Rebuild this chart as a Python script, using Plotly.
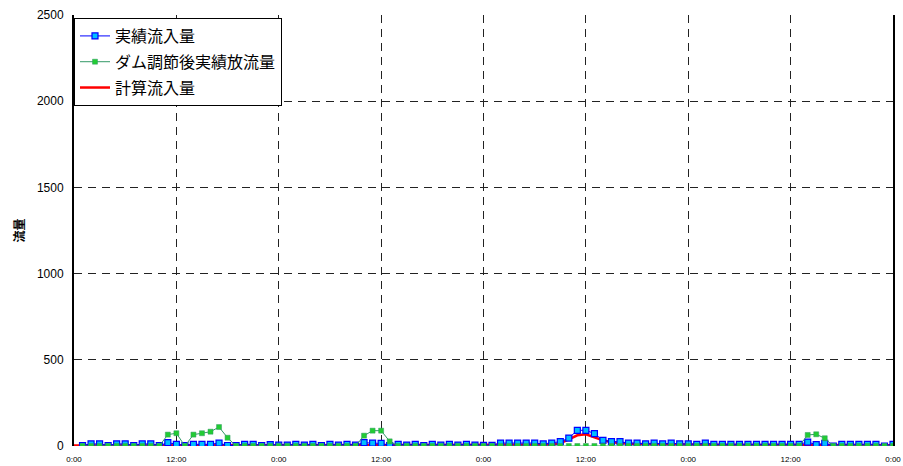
import plotly.graph_objects as go

# hourly data, 4 days (hour 0 = first 0:00)
hours = list(range(1, 97))
hours_calc = list(range(0, 97))

# 実績流入量 (hours 1..96)
inflow_obs = [
    3, 12, 12, 3, 12, 12, 3, 12, 12, 3, 19, 10, 3, 10, 10, 10, 17, 3, 3, 10, 10, 3, 8, 5,
    5, 10, 5, 10, 3, 10, 5, 10, 5, 19, 17, 15, 3, 10, 5, 10, 3, 10, 5, 10, 5, 10, 5, 4,
    4, 17, 17, 17, 17, 17, 12, 17, 25, 46, 91, 91, 72, 33, 25, 25, 17, 17, 12, 17, 12, 17, 12, 12,
    10, 17, 10, 10, 10, 10, 10, 10, 10, 10, 10, 10, 10, 23, 8, 15, 0, 10, 10, 10, 10, 10, 0, 10,
]

# ダム調節後実績放流量 (hours 1..96)
outflow_obs = [
    0, 0, 0, 0, 0, 0, 0, 0, 0, 0, 66, 74, 0, 66, 74, 83, 110, 48, 0, 0, 0, 0, 0, 0,
    0, 0, 0, 0, 0, 0, 0, 0, 0, 60, 89, 89, 27, 0, 0, 0, 0, 0, 0, 0, 0, 0, 0, 0,
    0, 0, 0, 0, 0, 0, 0, 0, 0, 0, 0, 0, 0, 0, 0, 0, 0, 0, 0, 0, 0, 0, 0, 0,
    0, 0, 0, 0, 0, 0, 0, 0, 0, 0, 0, 0, 0, 64, 68, 45, 0, 0, 0, 0, 0, 0, 0, 0,
]

# 計算流入量 (hours 0..96)
inflow_calc = [
    3,
    3, 3, 3, 3, 3, 3, 3, 3, 3, 3, 4, 4, 4, 4, 4, 4, 4, 3, 3, 3, 3, 3, 3, 3,
    3, 3, 3, 3, 3, 3, 3, 3, 3, 4, 4, 4, 4, 3, 3, 3, 3, 3, 3, 3, 4, 4, 5, 5,
    6, 6, 6, 6, 6, 6, 7, 8, 15, 38, 62, 68, 50, 33, 22, 16, 13, 12, 11, 10, 10, 9, 9, 8,
    8, 8, 7, 7, 7, 7, 7, 7, 6, 6, 6, 6, 6, 6, 6, 6, 6, 6, 5, 5, 5, 5, 5, 5,
]

tick_vals = [0, 12, 24, 36, 48, 60, 72, 84, 96]
tick_text = ["0:00", "12:00", "0:00", "12:00", "0:00", "12:00", "0:00", "12:00", "0:00"]

font_main = "Liberation Sans, Arial, Noto Sans CJK JP, sans-serif"
font_jp = "Noto Sans CJK JP, Liberation Sans, sans-serif"

fig = go.Figure()

fig.add_trace(go.Scatter(
    x=hours_calc, y=inflow_calc, name="計算流入量", mode="lines",
    line=dict(color="#ff0000", width=2.5), legendrank=3, legendgroup="c",
))
fig.add_trace(go.Scatter(
    x=hours, y=inflow_obs, name="実績流入量", mode="lines+markers",
    line=dict(color="#0000ff", width=1),
    marker=dict(symbol="square", size=6, color="#00bfff", line=dict(color="#0000ff", width=1.2)),
    legendrank=1, legendgroup="a",
))
fig.add_trace(go.Scatter(
    x=hours, y=outflow_obs, name="ダム調節後実績放流量", mode="lines+markers",
    line=dict(color="#339966", width=1),
    marker=dict(symbol="square", size=5, color="#22cc33", line=dict(color="#339966", width=0.5)),
    legendrank=2, legendgroup="b",
))

fig.update_layout(
    width=903, height=466,
    margin=dict(l=74, r=10, t=15, b=20),
    paper_bgcolor="white", plot_bgcolor="white",
    font=dict(family=font_main, color="black", size=11),
    showlegend=True,
    legend=dict(
        x=0.0, y=0.993, xanchor="left", yanchor="top",
        bgcolor="white", bordercolor="black", borderwidth=1,
        font=dict(family=font_jp, size=16, color="black"),
        tracegroupgap=2, itemwidth=30,
    ),
)

fig.update_xaxes(
    range=[0, 96], tickvals=tick_vals, ticktext=tick_text,
    tickfont=dict(size=8, family=font_main), automargin=False,
    showgrid=True, gridcolor="#222222", gridwidth=1, griddash="8px,6px",
    showline=False, zeroline=False, ticks="", ticklabelstandoff=7,
)
fig.update_yaxes(
    range=[0, 2500], dtick=500, tickfont=dict(size=12, family=font_main), automargin=False,
    showgrid=True, gridcolor="#222222", gridwidth=1, griddash="8px,6px",
    showline=True, linecolor="black", linewidth=2, mirror=True,
    zeroline=False, ticks="", ticklabelstandoff=6,
    title=dict(text="<b>流量</b>", font=dict(size=12, family=font_jp), standoff=10),
)

# the page's default body margin would push the figure off the window
fig.write_html("out.html", config={"displayModeBar": False},
               post_script="document.body.style.margin='0px';")
